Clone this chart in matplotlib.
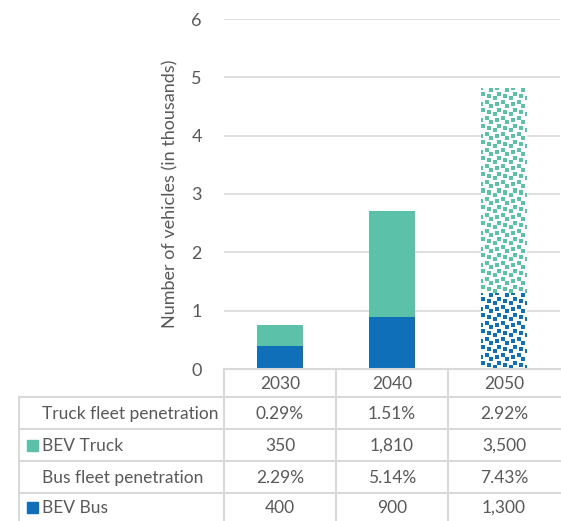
import numpy as np
import matplotlib.pyplot as plt
from matplotlib.colors import to_rgb

# BEV fleet projections (vehicles)
years = ['2030', '2040', '2050']
bev_bus = [400, 900, 1300]
bev_truck = [350, 1810, 3500]
bus_pen = ['2.29%', '5.14%', '7.43%']
truck_pen = ['0.29%', '1.51%', '2.92%']
projected = [False, False, True]   # 2050 is drawn with a confetti fill

BUS_C = '#0f6fb9'
TRUCK_C = '#5bc2a9'
GRID_C = '#d9d9d9'
TEXT_C = '#595959'
FS = 12.5

plt.rcParams['font.family'] = ['Lato', 'DejaVu Sans']

W, H = 561, 521
fig = plt.figure(figsize=(W / 100, H / 100), dpi=100)
ax = fig.add_axes([224 / W, 1 - 369 / H, 336 / W, 350 / H])
ax.set_xlim(-0.5, 2.5)
ax.set_ylim(0, 6)

# 8x8 "large confetti" tile
confetti = np.array([[int(b) for b in f'{v:08b}']
                     for v in [0x8d, 0x0c, 0xc0, 0xd8, 0x1b, 0x03, 0x30, 0xb1]])
bw = 0.41


def confetti_bar(x, bottom, height, color, scale=2):
    x0, x1 = x - bw / 2, x + bw / 2
    p0 = ax.transData.transform((x0, bottom))
    p1 = ax.transData.transform((x1, bottom + height))
    nx = max(1, int(round((p1[0] - p0[0]) / scale)))
    ny = max(1, int(round((p1[1] - p0[1]) / scale)))
    mask = np.tile(confetti, (ny // 8 + 1, nx // 8 + 1))[:ny, :nx]
    img = np.ones((ny, nx, 4))
    img[mask == 1, :3] = to_rgb(color)
    ax.imshow(img, extent=(x0, x1, bottom, bottom + height), aspect='auto',
              interpolation='nearest', zorder=3)


xs = np.arange(len(years))
bus_k = [v / 1000 for v in bev_bus]
truck_k = [v / 1000 for v in bev_truck]
for i, x in enumerate(xs):
    if projected[i]:
        confetti_bar(x, 0, bus_k[i], BUS_C)
        confetti_bar(x, bus_k[i], truck_k[i], TRUCK_C)
    else:
        ax.bar(x, bus_k[i], bw, color=BUS_C, zorder=3)
        ax.bar(x, truck_k[i], bw, bottom=bus_k[i], color=TRUCK_C, zorder=3)

ax.set_xlim(-0.5, 2.5)
ax.set_ylim(0, 6)
ax.set_yticks(range(7))
ax.set_xticks([])
ax.tick_params(axis='y', length=0, pad=16, labelsize=13, labelcolor=TEXT_C)
ax.grid(axis='y', color=GRID_C, lw=1.2, zorder=0)
for s in ax.spines.values():
    s.set_visible(False)
ax.set_ylabel('Number of vehicles (in thousands)', fontsize=13, color=TEXT_C,
              labelpad=9)

# data table underneath, laid out in pixel coordinates
tax = fig.add_axes([0, 0, 1, 1], zorder=5)
tax.set_xlim(0, W)
tax.set_ylim(H, 0)
tax.axis('off')
tax.patch.set_alpha(0)

col_x = [224, 336, 448, 560]
left_x = 19
head_top, head_bot = 369, 397
row_y = [397, 429, 461, 493, 525]
lw = 1.5

tax.plot([col_x[0], W], [head_top, head_top], color=GRID_C, lw=lw)
for x in col_x[:-1]:
    tax.plot([x, x], [head_top, H], color=GRID_C, lw=lw)
tax.plot([left_x, left_x], [head_bot, H], color=GRID_C, lw=lw)
for y in row_y[:-1]:
    tax.plot([left_x, W], [y, y], color=GRID_C, lw=lw)

centers = [(a + b) / 2 for a, b in zip(col_x[:-1], col_x[1:])]
for cx, yr in zip(centers, years):
    tax.text(cx, (head_top + head_bot) / 2 + 1, yr, ha='center', va='center',
             fontsize=FS, color=TEXT_C)

rows = [
    ('Truck fleet penetration', None, truck_pen),
    ('BEV Truck', TRUCK_C, [f'{v:,}' for v in bev_truck]),
    ('Bus fleet penetration', None, bus_pen),
    ('BEV Bus', BUS_C, [f'{v:,}' for v in bev_bus]),
]
for (label, swatch, vals), y0, y1 in zip(rows, row_y[:-1], row_y[1:]):
    cy = (y0 + y1) / 2 + 1
    if y1 > H:
        cy = (y0 + H) / 2 + 1
    tax.text(42, cy, label, ha='left', va='center', fontsize=FS, color=TEXT_C)
    if swatch:
        tax.add_patch(plt.Rectangle((27, cy - 6), 11, 11, color=swatch))
    for cx, v in zip(centers, vals):
        tax.text(cx, cy, v, ha='center', va='center', fontsize=FS, color=TEXT_C)

fig.savefig('out.png', dpi=100)
